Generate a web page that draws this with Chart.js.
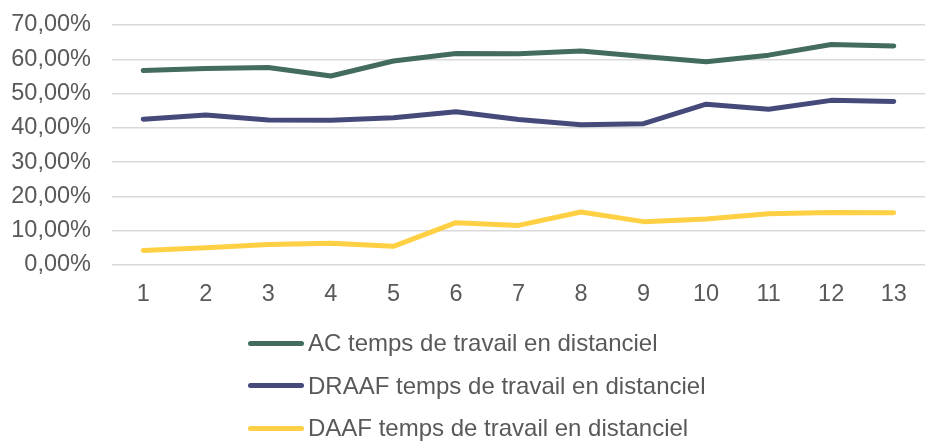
<!DOCTYPE html>
<html>
<head>
<meta charset="utf-8">
<script src="https://cdn.jsdelivr.net/npm/chart.js@4/dist/chart.umd.min.js"></script>
<style>
  html, body { margin: 0; padding: 0; background: #fff; }
  #wrap { position: relative; width: 925px; height: 441px; }
  #legend { position: absolute; left: 248px; top: 322px; font-family: "Liberation Sans", Arial, sans-serif; font-size: 24px; color: #595959; }
  .legend-row { display: flex; align-items: center; height: 42.5px; }
  .legend-line { width: 56px; height: 5px; border-radius: 3px; margin-right: 4px; }
</style>
</head>
<body>
<div id="wrap">
  <canvas id="chart" width="925" height="441"></canvas>
  <div id="legend"></div>
</div>
<script>
const labels = ["1", "2", "3", "4", "5", "6", "7", "8", "9", "10", "11", "12", "13"];
const acValues = [56.7, 57.3, 57.6, 55.1, 59.5, 61.7, 61.6, 62.4, 60.8, 59.3, 61.2, 64.3, 63.9];
const draafValues = [42.5, 43.7, 42.3, 42.2, 42.9, 44.7, 42.4, 40.9, 41.2, 46.9, 45.4, 48.0, 47.7];
const daafValues = [4.2, 5.0, 5.9, 6.3, 5.4, 12.3, 11.5, 15.4, 12.6, 13.4, 14.9, 15.3, 15.2];
const seriesNames = [
  "AC temps de travail en distanciel",
  "DRAAF temps de travail en distanciel",
  "DAAF temps de travail en distanciel"
];
const seriesColors = ["#436B5F", "#464A7A", "#FFD044"];

const textColor = "#595959";
const fontFamily = "'Liberation Sans', Arial, sans-serif";

function percentLabel(value) {
  return value.toFixed(2).replace(".", ",") + "%";
}

function makeDataset(index, values) {
  return {
    label: seriesNames[index],
    data: values,
    borderColor: seriesColors[index],
    backgroundColor: seriesColors[index],
    borderWidth: 5,
    borderCapStyle: "round",
    borderJoinStyle: "round",
    pointRadius: 0,
    tension: 0
  };
}

const chart = new Chart(document.getElementById("chart"), {
  type: "line",
  data: {
    labels,
    datasets: [
      makeDataset(0, acValues),
      makeDataset(1, draafValues),
      makeDataset(2, daafValues)
    ]
  },
  options: {
    responsive: false,
    animation: false,
    layout: { padding: { top: 25, left: 8, right: 0, bottom: 124 } },
    plugins: {
      legend: { display: false },
      tooltip: { enabled: false }
    },
    scales: {
      x: {
        offset: true,
        grid: { display: false },
        border: { display: false },
        ticks: {
          color: textColor,
          font: { family: fontFamily, size: 23.5 },
          padding: 8,
          maxRotation: 0,
          autoSkip: false
        }
      },
      y: {
        min: 0,
        max: 70,
        border: { display: false },
        // invisible tick marks keep the labels away from the plot
        grid: { color: "#D9D9D9", lineWidth: 1.5, drawTicks: true, tickLength: 21, tickColor: "rgba(0,0,0,0)" },
        ticks: {
          stepSize: 10,
          autoSkip: false,
          color: textColor,
          font: { family: fontFamily, size: 23.5 },
          padding: 0,
          callback: (value) => percentLabel(value)
        },
        afterFit: (scale) => { scale.width = 104; }
      }
    }
  }
});

// legend below the chart, one entry per row, built from the chart's own legend items
const legendBox = document.getElementById("legend");
const items = chart.options.plugins.legend.labels.generateLabels(chart);
legendBox.innerHTML = items
  .map(
    (item) => `
      <div class="legend-row">
        <span class="legend-line" style="background:${item.strokeStyle}"></span>
        <span>${item.text}</span>
      </div>
    `
  )
  .join("");
</script>
</body>
</html>
